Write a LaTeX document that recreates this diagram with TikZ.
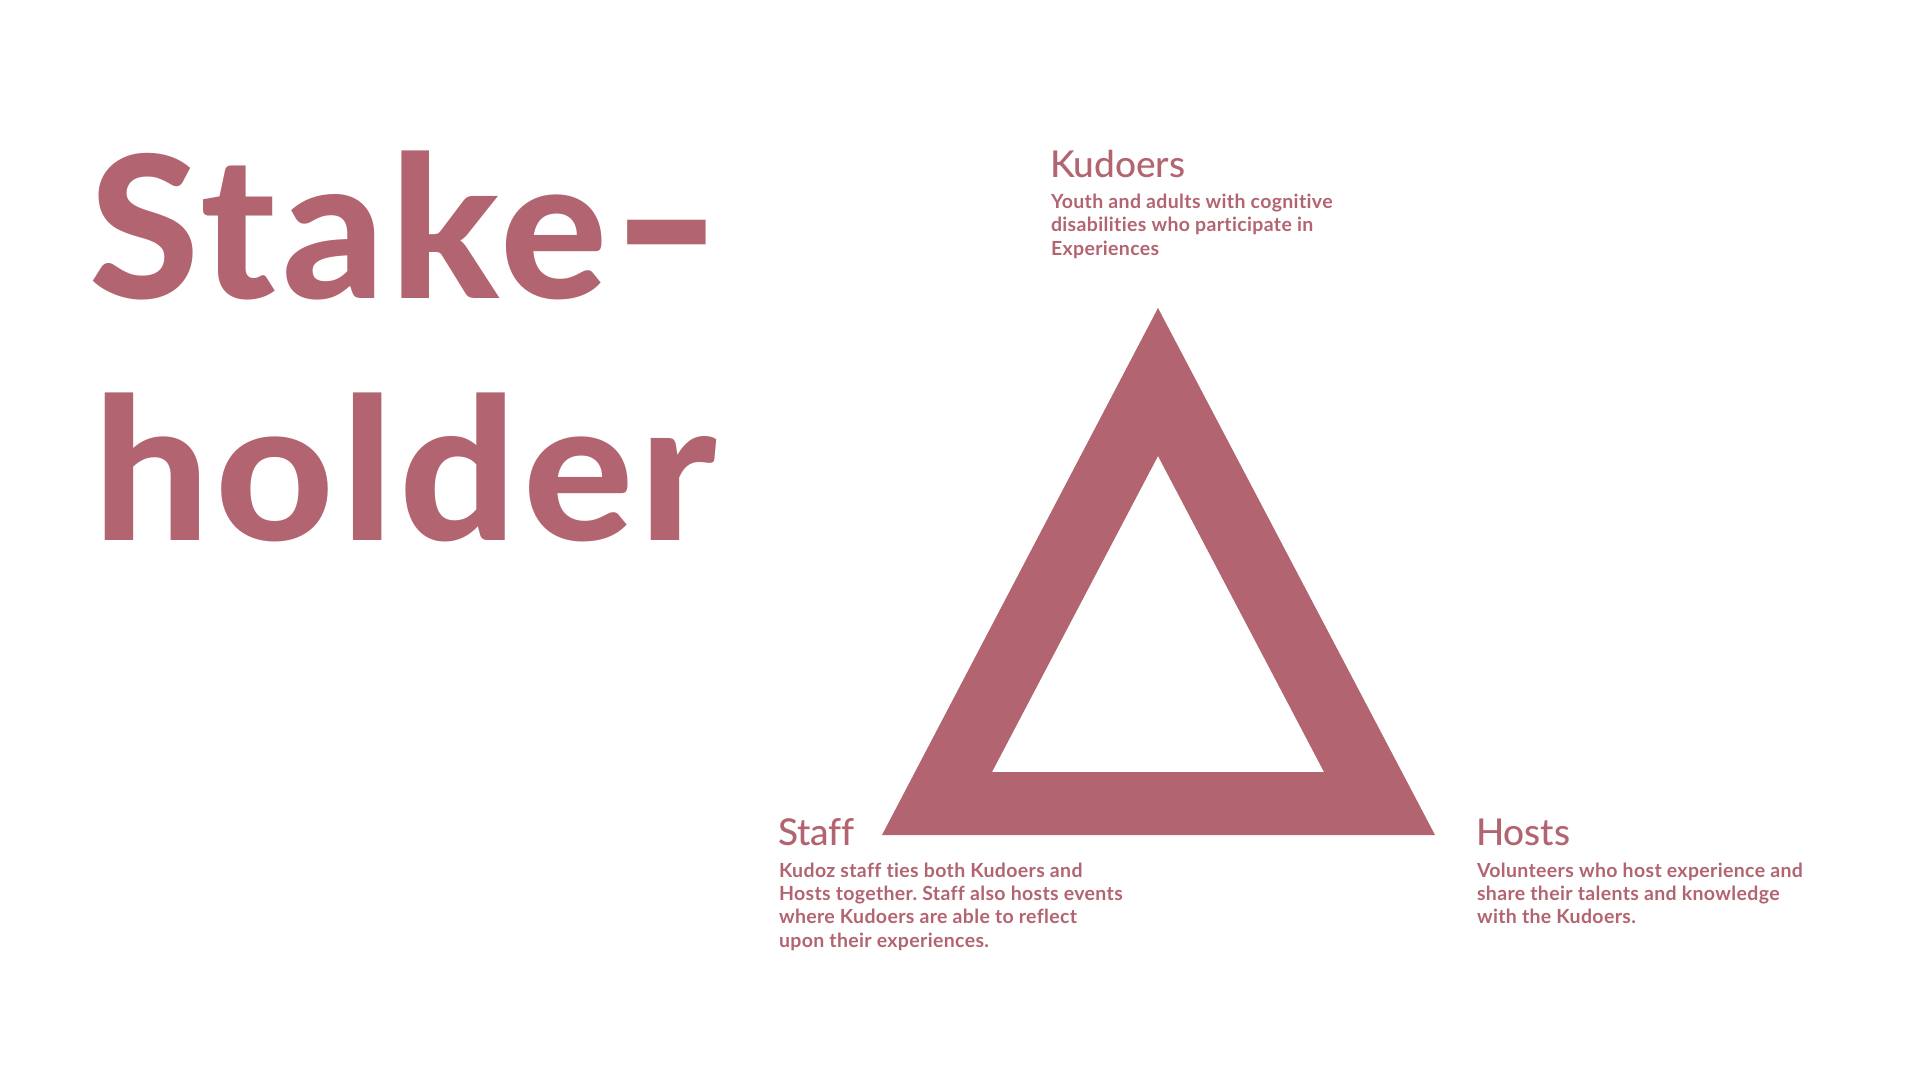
\documentclass[tikz,border=0pt]{standalone}
\usepackage{fontspec}
\setmainfont{Lato}
\newfontfamily\headfont{Lato Heavy}[LetterSpace=3]
\newfontfamily\labfont{Lato Medium}[Ligatures=NoCommon]
\newfontfamily\txtfont{Lato Bold}[Ligatures=NoCommon, LetterSpace=1.8]
\definecolor{rose}{RGB}{178,100,112}
\newcommand\tlines[1]{\vtop{\baselineskip=23.4pt #1}}
\frenchspacing
\begin{document}
\begin{tikzpicture}[x=1pt,y=-1pt,
  every node/.style={inner sep=0pt, outer sep=0pt, anchor=base west, text=rose},
  heading/.style={font=\headfont\fontsize{198}{198}\selectfont},
  label/.style={font=\labfont\fontsize{37}{37}\selectfont},
  body/.style={font=\txtfont\fontsize{19.5}{23.4}\selectfont}]
\useasboundingbox (0,0) rectangle (1920,1080);
% heading
\node[heading] (h1) at (89,298) {\scalebox{1.01}[1]{Stake}\kern4pt\scalebox{1.5}[1.1]{-}};
\node[heading] (h2) at (93,540) {\scalebox{1.04}[1]{holder}};
% triangle
\coordinate (a) at (1158,308);
\coordinate (b) at (882,835);
\coordinate (c) at (1435,835);
\coordinate (ia) at (1158,456);
\coordinate (ib) at (992,772);
\coordinate (ic) at (1324,772);
\fill[rose, even odd rule] (a) -- (b) -- (c) -- cycle (ia) -- (ib) -- (ic) -- cycle;
% Kudoers
\node[label] (kl) at (1050,177) {Kudoers};
\node[body] (kb) at (1051,208.5) {\tlines{\hbox{Youth and adults with cognitive}\hbox{disabilities who participate in}\hbox{Experiences}}};
% Staff
\node[label] (sl) at (778,845) {Staff};
\node[body] (sb) at (779,877) {\tlines{\hbox{Kudoz staff ties both Kudoers and}\hbox{Hosts together. Staff also hosts events}\hbox{where Kudoers are able to reflect}\hbox{upon their experiences.}}};
% Hosts
\node[label] (hl) at (1476,845) {Hosts};
\node[body] (hb) at (1477,877) {\tlines{\hbox{Volunteers who host experience and}\hbox{share their talents and knowledge}\hbox{with the Kudoers.}}};
\end{tikzpicture}
\end{document}
